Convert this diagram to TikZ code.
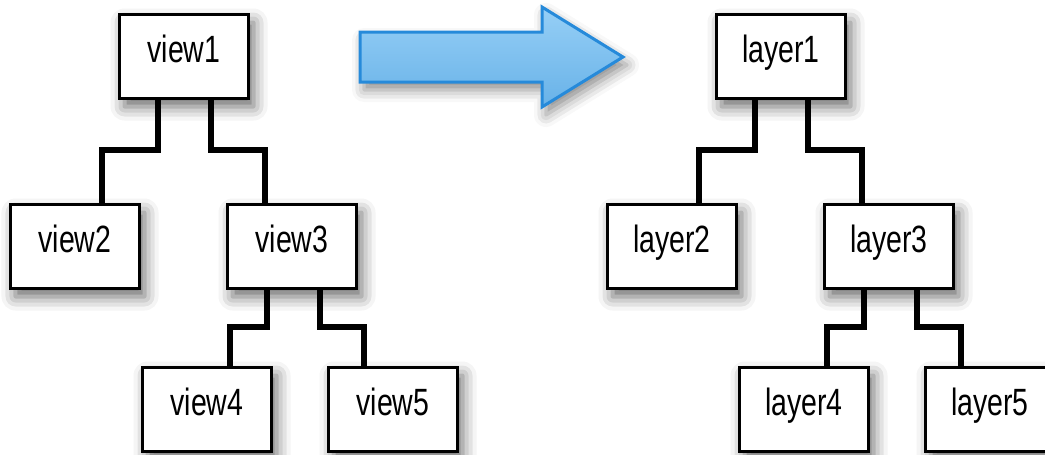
\documentclass[tikz,border=0pt]{standalone}
\usepackage{fontspec}
\setmainfont{Liberation Sans}[FakeStretch=0.75]
\usepackage{tikz}
\usetikzlibrary{positioning}
\usetikzlibrary{shadows.blur}
\definecolor{ArrowTop}{RGB}{150,207,246}
\definecolor{ArrowBot}{RGB}{104,178,232}
\definecolor{ArrowLine}{RGB}{38,138,218}

\tikzset{
  box/.style={draw, line width=1.5pt, fill=white, inner sep=0pt,
    minimum width=64.5pt, text height=23.75pt, text depth=18.25pt,
    font=\fontsize{19}{22}\selectfont,
    blur shadow={shadow xshift=2.5pt, shadow yshift=-4pt, shadow blur radius=7pt, shadow opacity=60}},
  wire/.style={line width=3pt}
}

\begin{document}
\begin{tikzpicture}
        \useasboundingbox (0,0) rectangle (522.5pt,-227.5pt);

        % view nodes
        \node[box] (V1) at (92pt,-28.25pt) {view1};
        \node[box, below=51.5pt of V1, xshift=-54.5pt] (V2) {view2};
        \node[box, below=51.5pt of V1, xshift=54pt] (V3) {view3};
        \node[box, below=38pt of V3, xshift=-42.5pt] (V4) {view4};
        \node[box, below=38pt of V3, xshift=50.5pt] (V5) {view5};

        % layer nodes
        \node[box] (L1) at (390.5pt,-28.25pt) {layer1};
        \node[box, below=51.5pt of L1, xshift=-54.5pt] (L2) {layer2};
        \node[box, below=51.5pt of L1, xshift=54pt] (L3) {layer3};
        \node[box, below=38pt of L3, xshift=-42.5pt] (L4) {layer4};
        \node[box, below=38pt of L3, xshift=50.5pt] (L5) {layer5};

        % edges
        \draw[wire] ([xshift=-13pt]V1.south) -- ++(0,-25pt) -| ([xshift=13.3pt]V2.north);
        \draw[wire] ([xshift=13.5pt]V1.south) -- ++(0,-25pt) -| ([xshift=-13.5pt]V3.north);
        \draw[wire] ([xshift=-12.7pt]V3.south) -- ++(0,-18.5pt) -| ([xshift=11.5pt]V4.north);
        \draw[wire] ([xshift=13.8pt]V3.south) -- ++(0,-18.5pt) -| ([xshift=-14.7pt]V5.north);
        \draw[wire] ([xshift=-13pt]L1.south) -- ++(0,-25pt) -| ([xshift=13.3pt]L2.north);
        \draw[wire] ([xshift=13.5pt]L1.south) -- ++(0,-25pt) -| ([xshift=-13.5pt]L3.north);
        \draw[wire] ([xshift=-12.7pt]L3.south) -- ++(0,-18.5pt) -| ([xshift=11.5pt]L4.north);
        \draw[wire] ([xshift=13.8pt]L3.south) -- ++(0,-18.5pt) -| ([xshift=-14.7pt]L5.north);

        % big blue arrow
        \draw[line width=1.5pt, draw=ArrowLine, top color=ArrowTop, bottom color=ArrowBot,
              blur shadow={shadow xshift=2pt, shadow yshift=-4pt, shadow blur radius=6pt, shadow opacity=45}]
            (180pt,-16pt) -- (271pt,-16pt) -- (271pt,-3.5pt) -- (311.5pt,-28.5pt)
            -- (271pt,-53.5pt) -- (271pt,-41pt) -- (180pt,-41pt) -- cycle;
\end{tikzpicture}
\end{document}
